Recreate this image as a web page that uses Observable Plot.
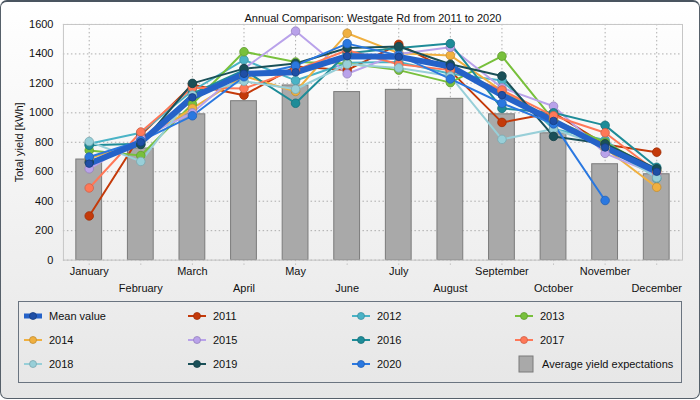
<!DOCTYPE html>
<html>
<head>
<meta charset="utf-8">
<script src="https://cdn.jsdelivr.net/npm/d3@7"></script>
<script src="https://cdn.jsdelivr.net/npm/@observablehq/plot@0.6"></script>
<style>
  html, body { margin: 0; padding: 0; background: #fff; }
  #panel {
    position: relative; width: 698px; height: 396px;
    border: 1px solid #56606a; border-top: 2px solid #4a5560; border-radius: 7px;
    background: linear-gradient(#ffffff, #e6e6e6);
    font-family: "Liberation Sans", Arial, sans-serif; font-size: 11px; color: #111;
    overflow: hidden;
  }
  #chart { position: absolute; left: -1px; top: -2px; }
  #legend {
    position: absolute; left: 17px; top: 299px; width: 664px; height: 82px;
    border: 1px solid #6a7480; box-sizing: border-box;
  }
  .item { position: absolute; display: flex; align-items: center; height: 14px; }
  .item svg { margin-right: 6px; }
</style>
</head>
<body>
<div id="panel">
  <div id="chart"></div>
  <div id="legend"></div>
</div>
<script>
const months = ["January","February","March","April","May","June","July","August","September","October","November","December"];
const expectations = [683, 758, 990, 1079, 1186, 1141, 1156, 1095, 990, 861, 651, 583];
const meanValue = [655, 800, 1105, 1265, 1275, 1385, 1380, 1315, 1120, 945, 765, 600];
const y2011 = [300, 850, 1190, 1120, 1315, 1290, 1465, 1285, 935, 1000, 785, 733];
const y2012 = [790, 865, 1150, 1360, 1220, 1340, 1345, 1265, 1220, 890, 815, 555];
const y2013 = [745, 710, 1060, 1415, 1345, 1335, 1290, 1205, 1385, 950, 800, 610];
const y2014 = [690, 810, 1030, 1250, 1145, 1540, 1405, 1390, 1150, 950, 760, 495];
const y2015 = [620, 830, 1000, 1300, 1555, 1265, 1400, 1445, 1170, 1045, 725, 580];
const y2016 = [780, 790, 1130, 1290, 1065, 1405, 1440, 1470, 1030, 1000, 915, 630];
const y2017 = [490, 870, 1170, 1165, 1290, 1425, 1330, 1290, 1155, 980, 865, 600];
const y2018 = [805, 670, 1120, 1215, 1160, 1330, 1305, 1250, 820, 890, 770, 560];
const y2019 = [665, 785, 1200, 1300, 1335, 1440, 1450, 1330, 1250, 840, 790, 620];
const y2020 = [700, 810, 980, 1245, 1320, 1470, 1390, 1230, 1065, 925, 405, null];
const yTicks = [0, 200, 400, 600, 800, 1000, 1200, 1400, 1600];
const seriesNames = ["2011","2012","2013","2014","2015","2016","2017","2018","2019","2020"];
const seriesValues = [y2011, y2012, y2013, y2014, y2015, y2016, y2017, y2018, y2019, y2020];
const seriesColors = ["#c43a0a","#4ab3c6","#78c03c","#f0b040","#b9a2ea","#1e8c98","#ff7858","#98cfd8","#1a5058","#2a78e0"];
const meanColor = "#2562c8";
const barColor = "#a9a9a9";

const rows = [];
seriesNames.forEach((s, i) => months.forEach((m, j) => {
  if (seriesValues[i][j] != null) rows.push({series: s, month: m, value: seriesValues[i][j], color: seriesColors[i]});
}));
const meanRows = months.map((m, j) => ({month: m, value: meanValue[j]}));
const barRows = months.map((m, j) => ({month: m, value: expectations[j]}));
const darker = c => d3.color(c).darker(0.6).formatHex();

const grid = {stroke: "#9a9a9a", strokeOpacity: 0.8, strokeDasharray: "1.5,2.5"};
const chart = Plot.plot({
  width: 700, height: 300,
  marginLeft: 63, marginRight: 17, marginTop: 24, marginBottom: 40,
  style: {fontFamily: "Liberation Sans, Arial, sans-serif", fontSize: "11px", color: "#111", background: "transparent", overflow: "visible"},
  x: {type: "band", domain: months, paddingInner: 0.5, paddingOuter: 0.25, round: false, label: null},
  y: {domain: [0, 1600], label: null},
  marks: [
    Plot.gridY(yTicks, grid),
    Plot.gridX(months, grid),
    Plot.axisX(months, {tickSize: 5, tickFormat: () => "", label: null, ...grid}),
    Plot.axisX(months.filter((d, i) => i % 2 === 0), {tickSize: 0, tickPadding: 7, label: null}),
    Plot.axisX(months.filter((d, i) => i % 2 === 1), {tickSize: 0, tickPadding: 24, label: null}),
    Plot.axisY(yTicks, {tickSize: 0, tickPadding: 10, tickFormat: d => String(d), label: "Total yield [kWh]", labelAnchor: "center", labelArrow: "none", labelOffset: 48, fontSize: 11}),
    Plot.barY(barRows, {x: "month", y: "value", fill: barColor, stroke: "#7b7b7b", strokeWidth: 1}),
    Plot.frame({stroke: "#c6c6c6"}),
    ...seriesNames.map((s, i) => Plot.line(rows.filter(r => r.series === s), {x: "month", y: "value", stroke: seriesColors[i], strokeWidth: 2})),
    Plot.line(meanRows, {x: "month", y: "value", stroke: meanColor, strokeWidth: 6}),
    ...seriesNames.map((s, i) => Plot.dot(rows.filter(r => r.series === s), {x: "month", y: "value", r: 4.3, fill: seriesColors[i], stroke: darker(seriesColors[i]), strokeWidth: 0.8})),
    Plot.dot(meanRows, {x: "month", y: "value", r: 3.8, fill: "#1f4fa6", stroke: "#173d82", strokeWidth: 0.8}),
    Plot.text(["Annual Comparison: Westgate Rd from 2011 to 2020"], {frameAnchor: "top", dy: -10, fontSize: 11, fill: "#111"})
  ]
});
document.getElementById("chart").appendChild(chart);

// legend
const legendItems = [{name: "Mean value", color: meanColor, mean: true}]
  .concat(seriesNames.map((s, i) => ({name: s, color: seriesColors[i]})))
  .concat([{name: "Average yield expectations", color: barColor, bar: true}]);
const colX = [4, 168, 332, 495];
const rowY = [7, 31, 55];
const legend = document.getElementById("legend");
legendItems.forEach((it, k) => {
  const div = document.createElement("div");
  div.className = "item";
  div.style.left = colX[k % 4] + "px";
  div.style.top = rowY[Math.floor(k / 4)] + "px";
  let sym;
  if (it.bar) {
    sym = `<svg width="20" height="18" style="margin-right:8px"><rect x="5" y="1" width="14" height="16" fill="${it.color}" stroke="#7b7b7b"/></svg>`;
  } else if (it.mean) {
    sym = `<svg width="20" height="14"><line x1="1" y1="7" x2="19" y2="7" stroke="${it.color}" stroke-width="5"/><circle cx="10" cy="7" r="3.5" fill="#1f4fa6" stroke="#173d82" stroke-width="0.8"/></svg>`;
  } else {
    sym = `<svg width="20" height="14"><line x1="1" y1="7" x2="19" y2="7" stroke="${it.color}" stroke-width="2"/><circle cx="10" cy="7" r="3.5" fill="${it.color}" stroke="${darker(it.color)}" stroke-width="0.8"/></svg>`;
  }
  div.innerHTML = sym + `<span>${it.name}</span>`;
  legend.appendChild(div);
});
</script>
</body>
</html>
